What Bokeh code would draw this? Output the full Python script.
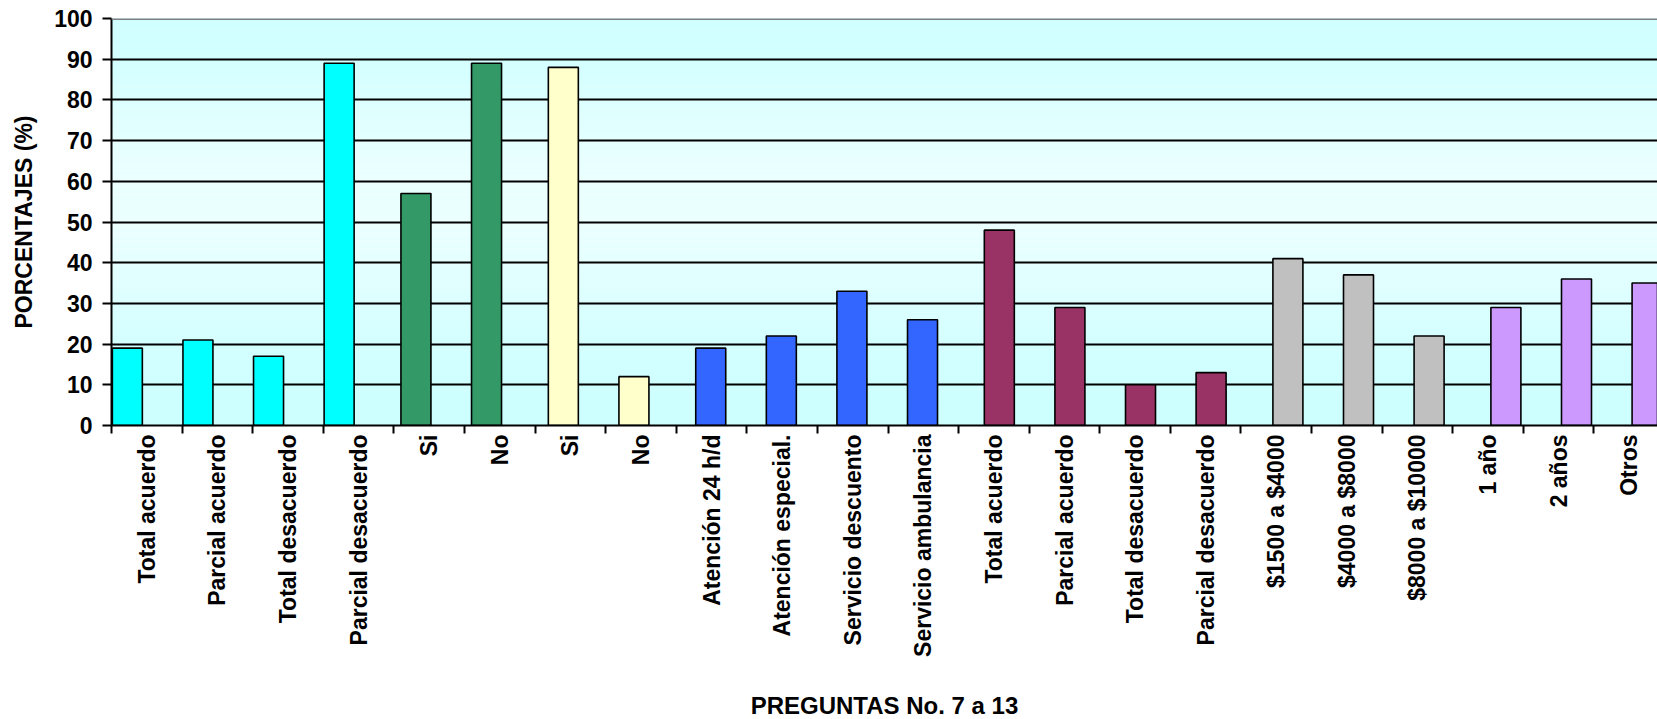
import math
from bokeh.plotting import figure
from bokeh.models import FixedTicker, BoxAnnotation, Span, ColumnDataSource, Range1d
from bokeh.embed import file_html
from bokeh.resources import INLINE

# ---- data ----
q7_labels = ["Total acuerdo", "Parcial acuerdo", "Total desacuerdo", "Parcial desacuerdo"]
q7_values = [19, 21, 17, 89]
q8_labels = ["Si", "No"]
q8_values = [57, 89]
q9_labels = ["Si", "No"]
q9_values = [88, 12]
q10_labels = ["Atención 24 h/d", "Atención especial.", "Servicio descuento", "Servicio ambulancia"]
q10_values = [19, 22, 33, 26]
q11_labels = ["Total acuerdo", "Parcial acuerdo", "Total desacuerdo", "Parcial desacuerdo"]
q11_values = [48, 29, 10, 13]
q12_labels = ["$1500 a $4000", "$4000 a $8000", "$8000 a $10000"]
q12_values = [41, 37, 22]
q13_labels = ["1 año", "2 años", "Otros"]
q13_values = [29, 36, 35]
group_colors = ["#00FFFF", "#339966", "#FFFFCC", "#3366FF", "#993366", "#C0C0C0", "#CC99FF"]
y_ticks = [0, 10, 20, 30, 40, 50, 60, 70, 80, 90, 100]

groups = [(q7_labels, q7_values), (q8_labels, q8_values), (q9_labels, q9_values),
          (q10_labels, q10_values), (q11_labels, q11_values), (q12_labels, q12_values),
          (q13_labels, q13_values)]

BAR_W = 0.425
SERIES_STEP = 0.088
labels, xs, tops, colors = [], [], [], []
idx = 0
for g, (labs, vals) in enumerate(groups):
    for lab, v in zip(labs, vals):
        labels.append(lab)
        xs.append(idx + 0.012 + SERIES_STEP * g + BAR_W / 2)
        tops.append(v)
        colors.append(group_colors[g])
        idx += 1
n = len(labels)

FONT = "Liberation Sans"

p = figure(frame_width=1546, frame_height=407,
           x_range=Range1d(0, 21.9), y_range=Range1d(0, 100),
           output_backend="svg", toolbar_location=None,
           min_border_left=111, min_border_right=0, min_border_top=18,
           min_border_bottom=10)
p.outline_line_color = None
p.background_fill_color = "#CCFFFF"
p.border_fill_color = "white"

# soft vertical gradient of the plot area
c0 = (0xCC, 0xFF, 0xFF)
c1 = (0xEC, 0xFF, 0xFF)
for k in range(50):
    y0 = k * 2
    yc = y0 + 1
    t = math.exp(-((yc - 55) / 30.0) ** 2)
    col = "#%02X%02X%02X" % tuple(int(round(a + (b - a) * t)) for a, b in zip(c0, c1))
    p.add_layout(BoxAnnotation(bottom=y0, top=y0 + 2, fill_color=col, fill_alpha=1,
                               line_alpha=0, level="image"))

src = ColumnDataSource(dict(x=xs, top=tops, color=colors, label=labels))
p.vbar(x="x", top="top", bottom=0, width=BAR_W, source=src,
       fill_color="color", line_color="black", line_width=1.6)

p.add_layout(Span(location=100, dimension="width", line_color="#808080", line_width=3))

# grid
p.xgrid.grid_line_color = None
p.ygrid.ticker = FixedTicker(ticks=y_ticks)
p.ygrid.grid_line_color = "black"
p.ygrid.grid_line_width = 2

# y axis
ya = p.yaxis[0]
ya.ticker = FixedTicker(ticks=y_ticks)
ya.axis_label = "PORCENTAJES (%)"
ya.axis_label_text_font = FONT
ya.axis_label_text_font_style = "bold"
ya.axis_label_text_font_size = "23px"
ya.axis_label_text_color = "black"
ya.axis_label_standoff = 14
ya.major_label_text_font = FONT
ya.major_label_text_font_style = "bold"
ya.major_label_text_font_size = "23px"
ya.major_label_text_color = "black"
ya.major_label_standoff = 10
ya.axis_line_color = "black"
ya.axis_line_width = 2
ya.major_tick_line_color = "black"
ya.major_tick_line_width = 2
ya.major_tick_out = 9
ya.major_tick_in = 0
ya.minor_tick_line_color = None

# x axis
xa = p.xaxis[0]
centers = [i + 0.5 for i in range(n)]
xa.ticker = FixedTicker(ticks=centers, minor_ticks=list(range(n + 1)))
xa.major_label_overrides = {c: lab for c, lab in zip(centers, labels)}
xa.major_label_orientation = math.pi / 2
xa.major_label_text_font = FONT
xa.major_label_text_font_style = "bold"
xa.major_label_text_font_size = "23px"
xa.major_label_text_color = "black"
xa.major_label_standoff = 1
xa.major_tick_line_color = None
xa.major_tick_out = 8
xa.major_tick_in = 0
xa.minor_tick_line_color = "black"
xa.minor_tick_line_width = 2
xa.minor_tick_out = 8
xa.minor_tick_in = 0
xa.axis_line_color = "black"
xa.axis_line_width = 2
xa.axis_label = "PREGUNTAS No. 7 a 13"
xa.axis_label_text_font = FONT
xa.axis_label_text_font_style = "bold"
xa.axis_label_text_font_size = "24px"
xa.axis_label_text_color = "black"
xa.axis_label_standoff = 32

open("out.html", "w").write(file_html(p, INLINE))
